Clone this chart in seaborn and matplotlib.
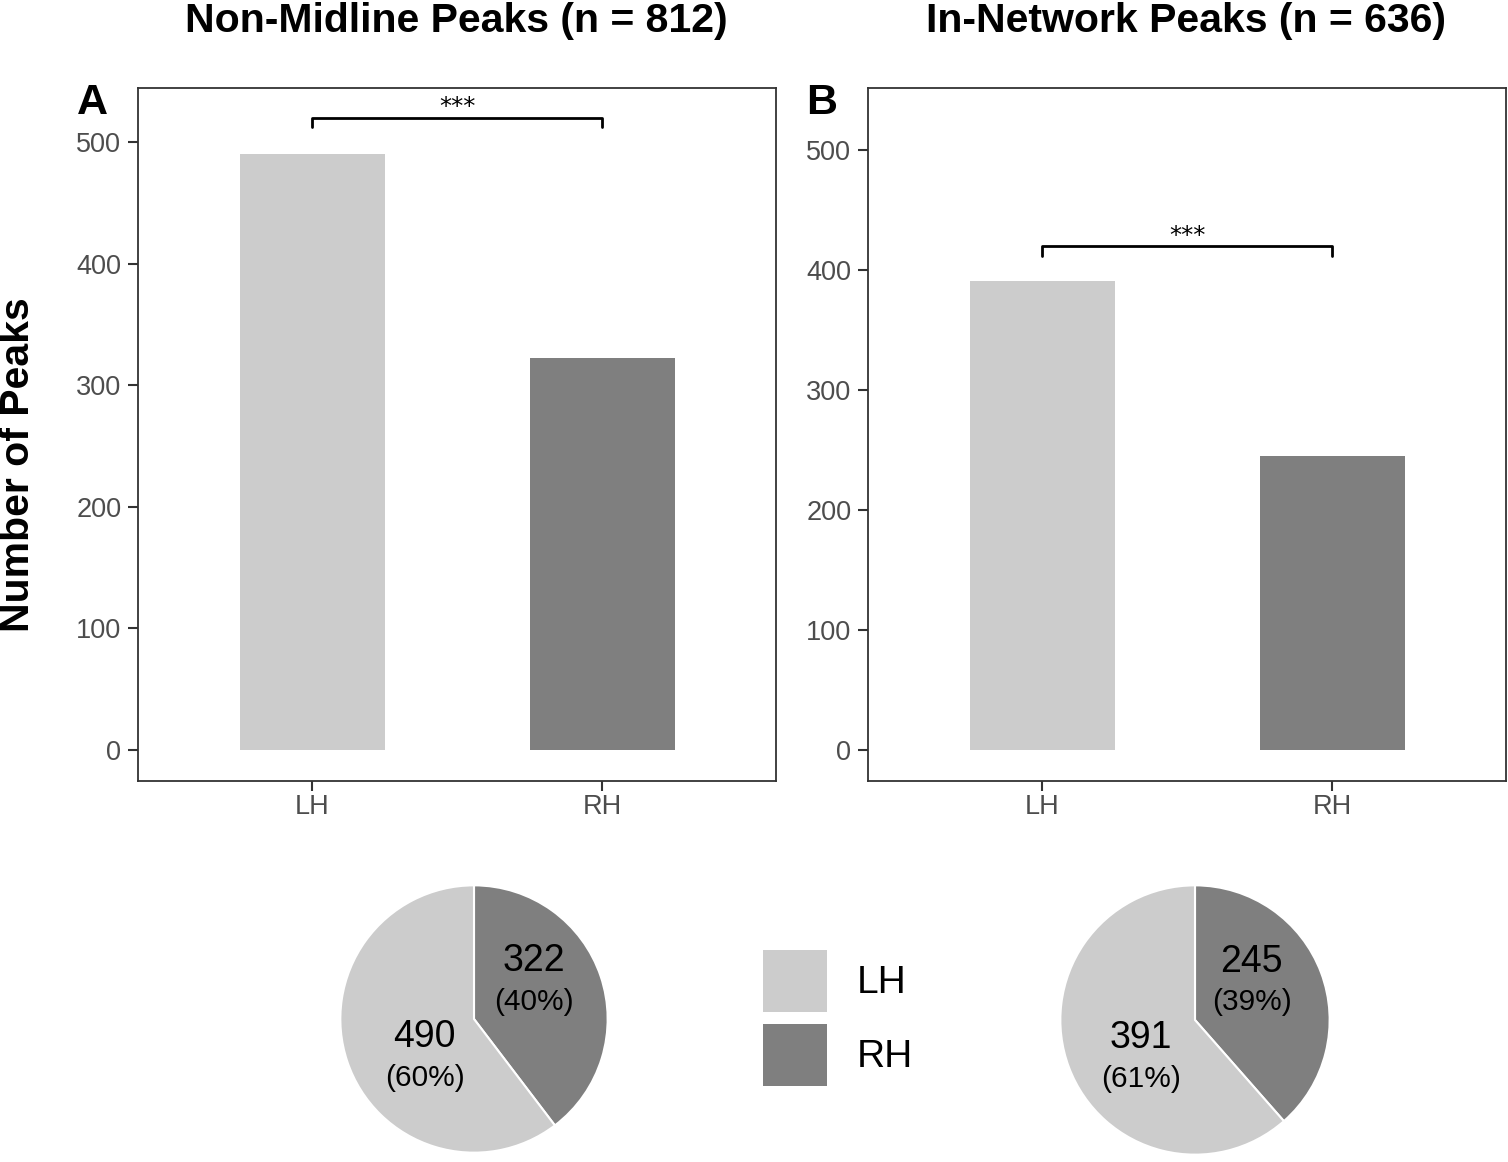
import numpy as np
import pandas as pd
import matplotlib
matplotlib.use('Agg')
import matplotlib.pyplot as plt
from matplotlib.patches import Patch
import seaborn as sns

sns.set_style('white')
plt.rcParams['font.family'] = ['Liberation Sans', 'DejaVu Sans']
plt.rcParams['text.color'] = 'black'

# ──────────────────────────────────────────────
# Data
# ──────────────────────────────────────────────
HEMI        = ['LH', 'RH']
NONMID_CNT  = [490, 322]
INNET_CNT   = [391, 245]
TITLES      = ['Non-Midline Peaks (n = 812)', 'In-Network Peaks (n = 636)']
PANEL_TAGS  = ['A', 'B']
SIG_LABEL   = '***'
BRACKET_Y   = [520, 420]
YTICKS      = [0, 100, 200, 300, 400, 500]

COLORS = {'LH': '#CCCCCC', 'RH': '#7F7F7F'}
TICK_GRAY = '#4D4D4D'
SPINE = '#333333'

W, H = 1508, 1162
fig = plt.figure(figsize=(W / 100, H / 100), dpi=100)


def px_axes(left, top, right, bottom):
    return fig.add_axes([left / W, 1 - bottom / H, (right - left) / W, (bottom - top) / H])


bar_boxes = [(138, 88, 776, 781), (868, 88, 1506, 781)]
ylims = [(-25.5, 544.4), (-25.8, 551.7)]
pie_boxes = [(339, 884, 609, 1154), (1059, 884, 1331, 1156)]
# label anchors in pie units (LH, RH)
pie_lbl = [[(-0.37, -0.34), (0.45, 0.23)], [(-0.40, -0.34), (0.42, 0.23)]]

for i, counts in enumerate([NONMID_CNT, INNET_CNT]):
    df = pd.DataFrame({'Hemisphere': HEMI, 'Peaks': counts})
    ax = px_axes(*bar_boxes[i])
    sns.barplot(data=df, x='Hemisphere', y='Peaks', hue='Hemisphere',
                palette=COLORS, width=0.5, legend=False, saturation=1,
                edgecolor='none', ax=ax)
    ax.set_xlim(-0.6, 1.6)
    ax.set_ylim(*ylims[i])
    ax.set_yticks(YTICKS)
    ax.set_xlabel('')
    ax.set_ylabel('')
    ax.tick_params(axis='both', colors=SPINE, labelcolor=TICK_GRAY,
                   labelsize=19.5, length=7, width=1.5, direction='out',
                   left=True, bottom=True, pad=5)
    ax.tick_params(axis='x', pad=2)
    for s in ax.spines.values():
        s.set_color(SPINE)
        s.set_linewidth(1.3)

    # significance bracket
    y = BRACKET_Y[i]
    d = 8
    ax.plot([0, 0, 1, 1], [y - d, y, y, y - d], color='black', lw=2)
    ax.text(0.5, y - 1.5, SIG_LABEL, ha='center', va='bottom', fontsize=17.5,
            family='DejaVu Sans')

    # panel tag + title
    fig.text((bar_boxes[i][0] - 46) / W, 1 - 103 / H, PANEL_TAGS[i],
             fontsize=31, fontweight='bold', ha='center', va='center')
    fig.text((bar_boxes[i][0] + bar_boxes[i][2]) / 2 / W - 1 / W, 1 - 21 / H, TITLES[i],
             fontsize=29.5, fontweight='bold', ha='center', va='center')

    # pie below
    pax = px_axes(*pie_boxes[i])
    total = sum(counts)
    wedges, _ = pax.pie(counts[::-1], colors=[COLORS['RH'], COLORS['LH']],
                        startangle=90, counterclock=False,
                        wedgeprops=dict(edgecolor='white', linewidth=1.5))
    pax.set_xlim(-1.01, 1.01)
    pax.set_ylim(-1.01, 1.01)
    for j, (h, c) in enumerate(zip(HEMI, counts)):
        x0, y0 = pie_lbl[i][j]
        pax.text(x0, y0 + 0.07, str(c), ha='center', va='bottom', fontsize=27)
        pax.text(x0, y0 + 0.005, f'({round(100 * c / total)}%)', ha='center',
                 va='top', fontsize=21.5)

fig.text(18 / W, 1 - 465 / H, 'Number of Peaks', rotation=90, fontsize=29.5,
         fontweight='bold', ha='center', va='center')

handles = [Patch(facecolor=COLORS[h], edgecolor='none', label=h) for h in HEMI]
fig.legend(handles=handles, loc='center', bbox_to_anchor=(838 / W, 1 - 1018 / H),
           frameon=False, fontsize=28, handlelength=1.65, handleheight=2.09,
           labelspacing=0.31, handletextpad=0.75)

plt.savefig('out.png', dpi=100)
